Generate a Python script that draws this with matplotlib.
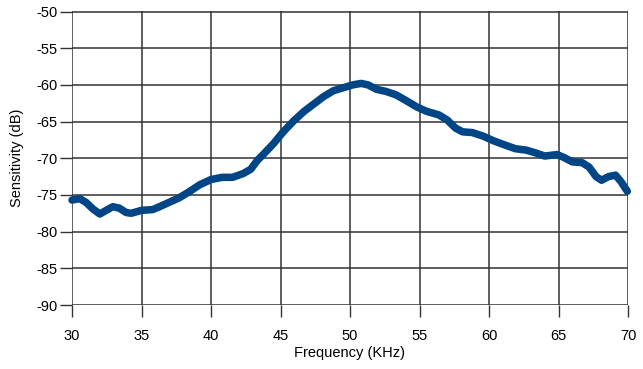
import matplotlib
matplotlib.use("Agg")
import matplotlib.pyplot as plt

freq_khz = [30.0, 30.55, 31.0, 31.5, 32.0, 32.46, 32.94, 33.4, 33.9, 34.26, 35.0, 35.8,
            36.3, 37.0, 37.7, 38.4, 39.2, 40.0, 40.8, 41.55, 42.3, 42.86, 43.33, 43.8,
            44.5, 45.2, 45.95, 46.7, 47.4, 48.1, 48.8, 49.5, 50.2, 50.8, 51.3, 51.9,
            52.6, 53.3, 54.0, 54.8, 55.5, 56.4, 57.0, 57.6, 58.1, 58.8, 59.6, 60.3,
            61.0, 61.9, 62.7, 63.4, 64.0, 64.9, 65.4, 66.0, 66.7, 67.2, 67.7, 68.1,
            68.6, 69.1, 69.5, 69.95]
sensitivity_db = [-75.7, -75.5, -76.0, -76.9, -77.6, -77.1, -76.6, -76.8, -77.4, -77.5, -77.1, -77.0,
                  -76.6, -76.0, -75.4, -74.6, -73.6, -72.9, -72.6, -72.6, -72.1, -71.5, -70.3, -69.4,
                  -68.0, -66.4, -64.9, -63.6, -62.6, -61.6, -60.8, -60.4, -60.0, -59.8, -60.0, -60.6,
                  -60.9, -61.35, -62.1, -63.0, -63.6, -64.1, -64.8, -65.9, -66.4, -66.5, -67.0, -67.6,
                  -68.1, -68.7, -68.9, -69.3, -69.7, -69.5, -69.9, -70.5, -70.6, -71.2, -72.5, -73.0,
                  -72.5, -72.3, -73.2, -74.5]
x_ticks = [30, 35, 40, 45, 50, 55, 60, 65, 70]
y_ticks = [-90, -85, -80, -75, -70, -65, -60, -55, -50]

plt.rcParams['font.family'] = ['Liberation Sans', 'DejaVu Sans']

fig = plt.figure(figsize=(6.43, 3.69), dpi=100)
ax = fig.add_axes([72/643, 1-305/369, (628-72)/643, (305-11.5)/369])

grid_c = '#333333'
ax.plot(freq_khz, sensitivity_db, color='#004586', lw=5.4, solid_capstyle='round',
        solid_joinstyle='round', zorder=3, clip_on=False)

ax.set_xlim(30, 70)
ax.set_ylim(-90, -50)
ax.set_xticks(x_ticks)
ax.set_yticks(y_ticks)
ax.set_xticklabels([str(t) for t in x_ticks])
ax.set_yticklabels([str(t) for t in y_ticks])
ax.grid(True, color=grid_c, lw=1.1)
for s in ax.spines.values():
    s.set_visible(False)
ax.tick_params(axis='both', direction='out', length=8.6, width=1.0, color=grid_c,
               labelsize=10.5, labelcolor='black')
ax.tick_params(axis='x', pad=8.5)
ax.tick_params(axis='y', pad=2)

ax.set_xlabel('Frequency (KHz)', fontsize=10.5, labelpad=2)
ax.set_ylabel('Sensitivity (dB)', fontsize=10.5, labelpad=9)

fig.savefig('out.png', dpi=100)
